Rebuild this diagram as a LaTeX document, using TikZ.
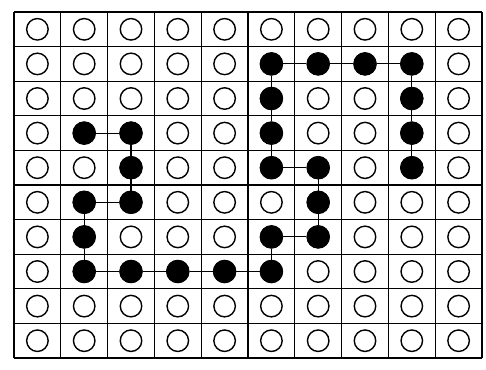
\documentclass[tikz,border=0pt]{standalone}
\usepackage{tikz}
\usetikzlibrary{positioning}
\tikzset{
  cellline/.style={draw=black, line width=0.7pt},
  hole/.style={circle, draw=black, line width=0.8pt, fill=white, minimum size=0.43cm, inner sep=0pt},
  bead/.style={circle, draw=black, fill=black, line width=0.6pt, minimum size=0.45cm, inner sep=0pt},
  link/.style={draw=black, line width=0.6pt}
}

\begin{document}
\begin{tikzpicture}[x=0.02cm, y=-0.02cm]
 \useasboundingbox (0,0) rectangle (486,369);
 % grid of cells
 \foreach \i in {0,...,10} \draw[cellline] ({14+46.8*\i},12) -- ({14+46.8*\i},358);
 \foreach \j in {0,...,10} \draw[cellline] (14,{12+34.6*\j}) -- (482,{12+34.6*\j});
 % empty sites
 \foreach \i in {0,...,9} \foreach \j in {0,...,9}
   \node[hole] (c\i-\j) at ({37.4+46.8*\i},{29.3+34.6*\j}) {};
 % occupied sites
 \foreach \i/\j in {1/3,2/3,2/4,2/5,1/5,1/6,1/7,2/7,3/7,4/7,5/7,5/6,6/6,6/5,6/4,5/4,5/3,5/2,5/1,6/1,7/1,8/1,8/2,8/3,8/4}
   \node[bead] (b\i-\j) at (c\i-\j) {};
 % chain
 \draw[link] (b1-3)--(b2-3)--(b2-4)--(b2-5)--(b1-5)--(b1-6)--(b1-7)--(b2-7)--(b3-7)--(b4-7)--(b5-7);
 \draw[link] (b5-7)--(b5-6)--(b6-6)--(b6-5)--(b6-4)--(b5-4)--(b5-3)--(b5-2)--(b5-1);
 \draw[link] (b5-1)--(b6-1)--(b7-1)--(b8-1)--(b8-2)--(b8-3)--(b8-4);
\end{tikzpicture}
\end{document}
